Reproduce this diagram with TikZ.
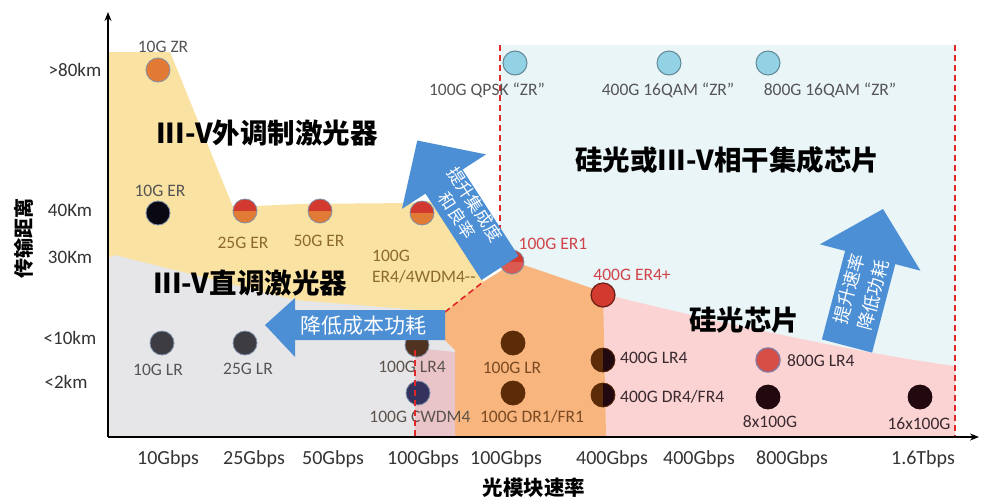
\documentclass[tikz,border=0pt]{standalone}
\usepackage{fontspec}
\setmainfont{Carlito}
\newfontfamily\cjk{Noto Sans CJK SC}
\usetikzlibrary{arrows.meta}
\definecolor{yel}{HTML}{FAE2A2}
\definecolor{gry}{HTML}{E6E6E9}
\definecolor{lblue}{HTML}{EAF5F8}
\definecolor{org}{HTML}{F8B57E}
\definecolor{pnk}{HTML}{FBD3D3}
\definecolor{pnkb}{HTML}{E9C5CA}
\definecolor{arrb}{HTML}{4C8FD5}
\definecolor{dred}{HTML}{E02828}
\definecolor{ptor}{HTML}{E07A35}
\definecolor{ptred}{HTML}{D23A30}
\definecolor{ptblk}{HTML}{0A0812}
\definecolor{ptgry}{HTML}{3C3C42}
\definecolor{ptbrn}{HTML}{5C2C08}
\definecolor{ptdk}{HTML}{22080F}
\definecolor{ptsky}{HTML}{93D2E5}
\definecolor{ringc}{HTML}{8090A8}
\definecolor{labg}{HTML}{555555}
\definecolor{labo}{HTML}{8C6A2E}
\definecolor{labb}{HTML}{7A4A22}
\definecolor{labd}{HTML}{3A2A30}
\definecolor{labr}{HTML}{D0454A}
\begin{document}
\begin{tikzpicture}[x=1pt,y=-1pt,
  lbl/.style={font=\fontsize{17.5}{17.5}\selectfont, inner sep=0pt, text=labg},
  ylbl/.style={font=\fontsize{19}{19}\selectfont, inner sep=0pt, text=black!80},
  xlbl/.style={font=\fontsize{20}{20}\selectfont, inner sep=0pt, text=black!80},
  bigt/.style={font=\cjk\bfseries\fontsize{27.5}{27.5}\selectfont, inner sep=0pt},
  arrt/.style={font=\cjk\fontsize{18}{22}\selectfont, inner sep=0pt, text=white, align=center},
  pt/.style={circle, minimum size=24pt, inner sep=0pt, draw=ringc, line width=0.8pt},
  skypt/.style={circle, minimum size=24pt, inner sep=0pt, draw=ptsky!65!black, line width=1pt, fill=ptsky},
  halfred/.style={path picture={\fill[ptred] (path picture bounding box.north west) rectangle (path picture bounding box.east);}},
  rightdark/.style={path picture={\fill[ptdk] (path picture bounding box.north) rectangle (path picture bounding box.south east);}},
  reddash/.style={draw=dred, line width=1.6pt, dash pattern=on 6pt off 4pt},
  axisln/.style={line width=2pt, -{Stealth[length=9pt,width=7pt]}}]
\useasboundingbox (0,0) rectangle (981,501);
\fill[white] (0,0) rectangle (981,501);
% regions
\fill[gry] (108,245) rectangle (456,437);
\fill[lblue] (500,45) rectangle (955,437);
\fill[yel] (108,52) -- (170,52) -- (233,207) -- (300,204) -- (410,203) -- (440,200) -- (480,262) -- (483,282) -- (445,312) -- (295,300) -- (115,255) -- (108,258) -- cycle;
\fill[pnk] (600,293) .. controls (700,318) and (850,352) .. (955,366) -- (955,437) -- (600,437) -- cycle;
\fill[org] (445,312) -- (483,282) -- (515,262) -- (603,292) -- (606,437) -- (455,437) -- (455,350) -- (445,340) -- cycle;
\fill[pnkb] (415,348) -- (455,352) -- (455,437) -- (415,437) -- cycle;
% dashed boundaries
\draw[reddash] (500,45) -- (500,258);
\draw[reddash] (955,45) -- (955,437);
\draw[reddash] (445,312) -- (483,282);
% axes
\coordinate (org0) at (108,437);
\coordinate (ytop) at (108,12);
\coordinate (xend) at (979,437);
\draw[axisln] (org0) -- (ytop);
\draw[axisln] (org0) -- (xend);
% axis labels
\node[ylbl] (y80) at (75,70) {>80km};
\node[ylbl] (y40) at (70,210) {40Km};
\node[ylbl] (y30) at (70,257) {30Km};
\node[ylbl] (y10) at (70,338) {<10km};
\node[ylbl] (y2) at (66,382) {<2km};
\node[font=\cjk\bfseries\fontsize{20}{20}\selectfont, rotate=90, inner sep=0pt] (ytitle) at (24,238) {传输距离};
\node[xlbl] (x1) at (168,459) {10Gbps};
\node[xlbl] (x2) at (254,459) {25Gbps};
\node[xlbl] (x3) at (333,459) {50Gbps};
\node[xlbl] (x4) at (423,459) {100Gbps};
\node[xlbl] (x5) at (506,459) {100Gbps};
\node[xlbl] (x6) at (612,459) {400Gbps};
\node[xlbl] (x7) at (699,459) {400Gbps};
\node[xlbl] (x8) at (792,459) {800Gbps};
\node[xlbl] (x9) at (923,459) {1.6Tbps};
\node[font=\cjk\bfseries\fontsize{20.5}{20.5}\selectfont, inner sep=0pt] (xtitle) at (534,488) {光模块速率};
% points
\node[pt, fill=ptor] (zr10) at (158,70) {};
\node[pt, fill=ptblk] (er10) at (158,213) {};
\node[pt, fill=ptor, halfred] (er25) at (245,211) {};
\node[pt, fill=ptor, halfred] (er50) at (320,211) {};
\node[pt, fill=ptor, halfred] (er100) at (422,213) {};
\node[pt, fill=ptred!80!pnk, halfred] (er1) at (512,262) {};
\node[pt, fill=ptred, draw=ptred!50!black, line width=1.2pt] (er4p) at (603,295) {};
\node[pt, fill=ptgry] (lr10) at (162,343) {};
\node[pt, fill=ptgry] (lr25) at (245,343) {};
\node[pt, fill=ptbrn!60!ptgry] (lr4a) at (417,345) {};
\node[pt, fill=ptgry!85!blue] (cwdm) at (418,393) {};
\node[pt, fill=ptbrn, draw=ptbrn] (lr100) at (513,343) {};
\node[pt, fill=ptbrn, draw=ptbrn] (dr1) at (513,393) {};
\node[pt, fill=ptbrn, draw=ptbrn, rightdark] (lr400) at (603,360) {};
\node[pt, fill=ptbrn, draw=ptbrn, rightdark] (dr4) at (603,395) {};
\node[pt, fill=ptred!90!white, draw=ringc!80!purple, line width=1.5pt] (lr800) at (768,360) {};
\node[pt, fill=ptdk, draw=ptdk] (x8p) at (768,397) {};
\node[pt, fill=ptdk, draw=ptdk] (x16p) at (920,397) {};
\node[skypt] (zq1) at (515,63) {};
\node[skypt] (zq4) at (669,63) {};
\node[skypt] (zq8) at (768,63) {};
% point labels
\node[lbl] (lzr10) at (163,47) {10G ZR};
\node[lbl] (ler10) at (160,191) {10G ER};
\node[lbl, text=labo] (ler25) at (243,243) {25G ER};
\node[lbl, text=labo] (ler50) at (319,241) {50G ER};
\node[lbl, text=labo, anchor=west] (ler100a) at (372,256) {100G};
\node[lbl, text=labo, anchor=west] (ler100b) at (372,277) {ER4/4WDM4{-}{-}};
\node[lbl, text=labr] (ler1) at (553,244) {100G ER1};
\node[lbl, text=labr] (ler4p) at (632,275) {400G ER4+};
\node[lbl] (llr10) at (158,370) {10G LR};
\node[lbl] (llr25) at (248,369) {25G LR};
\node[lbl, text=labg!80!labb] (llr4a) at (412,367) {100G LR4};
\node[lbl, text=labg!80!labb] (lcwdm) at (420,417) {100G CWDM4};
\node[lbl, text=labb] (llr100) at (512,368) {100G LR};
\node[lbl, text=labb] (ldr1) at (532,417) {100G DR1/FR1};
\node[lbl, text=labd, anchor=west] (llr400) at (620,358) {400G LR4};
\node[lbl, text=labd, anchor=west] (ldr4) at (620,397) {400G DR4/FR4};
\node[lbl, text=labd, anchor=west] (llr800) at (787,361) {800G LR4};
\node[lbl, text=labd] (lx8) at (770,422) {8x100G};
\node[lbl, text=labd] (lx16) at (919,424) {16x100G};
\node[lbl] (lzq1) at (487,90) {100G QPSK “ZR”};
\node[lbl] (lzq4) at (668,90) {400G 16QAM “ZR”};
\node[lbl] (lzq8) at (830,90) {800G 16QAM “ZR”};
% arrows
\fill[arrb] (295,298) -- (265,325) -- (295,357) -- (295,340) -- (445,340) -- (445,310) -- (295,310) -- cycle;
\node[font=\cjk\fontsize{21}{21}\selectfont, text=white, inner sep=0pt] (ta1) at (363,326) {降低成本功耗};
\fill[arrb] (518.5,256) -- (462.5,169.6) -- (486,154.4) -- (417.3,140.5) -- (402,208.8) -- (425.5,193.6) -- (481.5,280) -- cycle;
\node[arrt, font=\cjk\fontsize{17}{21}\selectfont, rotate=-57] (ta2) at (466,210) {提升集成度\\和良率};
\fill[arrb] (872.1,352.6) -- (895.3,264.1) -- (920.5,270.7) -- (883,209) -- (819.9,244.3) -- (845.1,250.9) -- (821.9,339.4) -- cycle;
\node[arrt, font=\cjk\fontsize{18}{25}\selectfont, rotate=75] (ta3) at (861,292) {提升速率\\降低功耗};
% dashed lines over labels
\draw[reddash] (415,350) -- (415,437);
% big region titles
\node[bigt] (t1) at (267,133) {III-V外调制激光器};
\node[bigt] (t2) at (250,283) {III-V直调激光器};
\node[bigt] (t3) at (727,160) {硅光或III-V相干集成芯片};
\node[bigt] (t4) at (744,320) {硅光芯片};
\end{tikzpicture}
\end{document}
